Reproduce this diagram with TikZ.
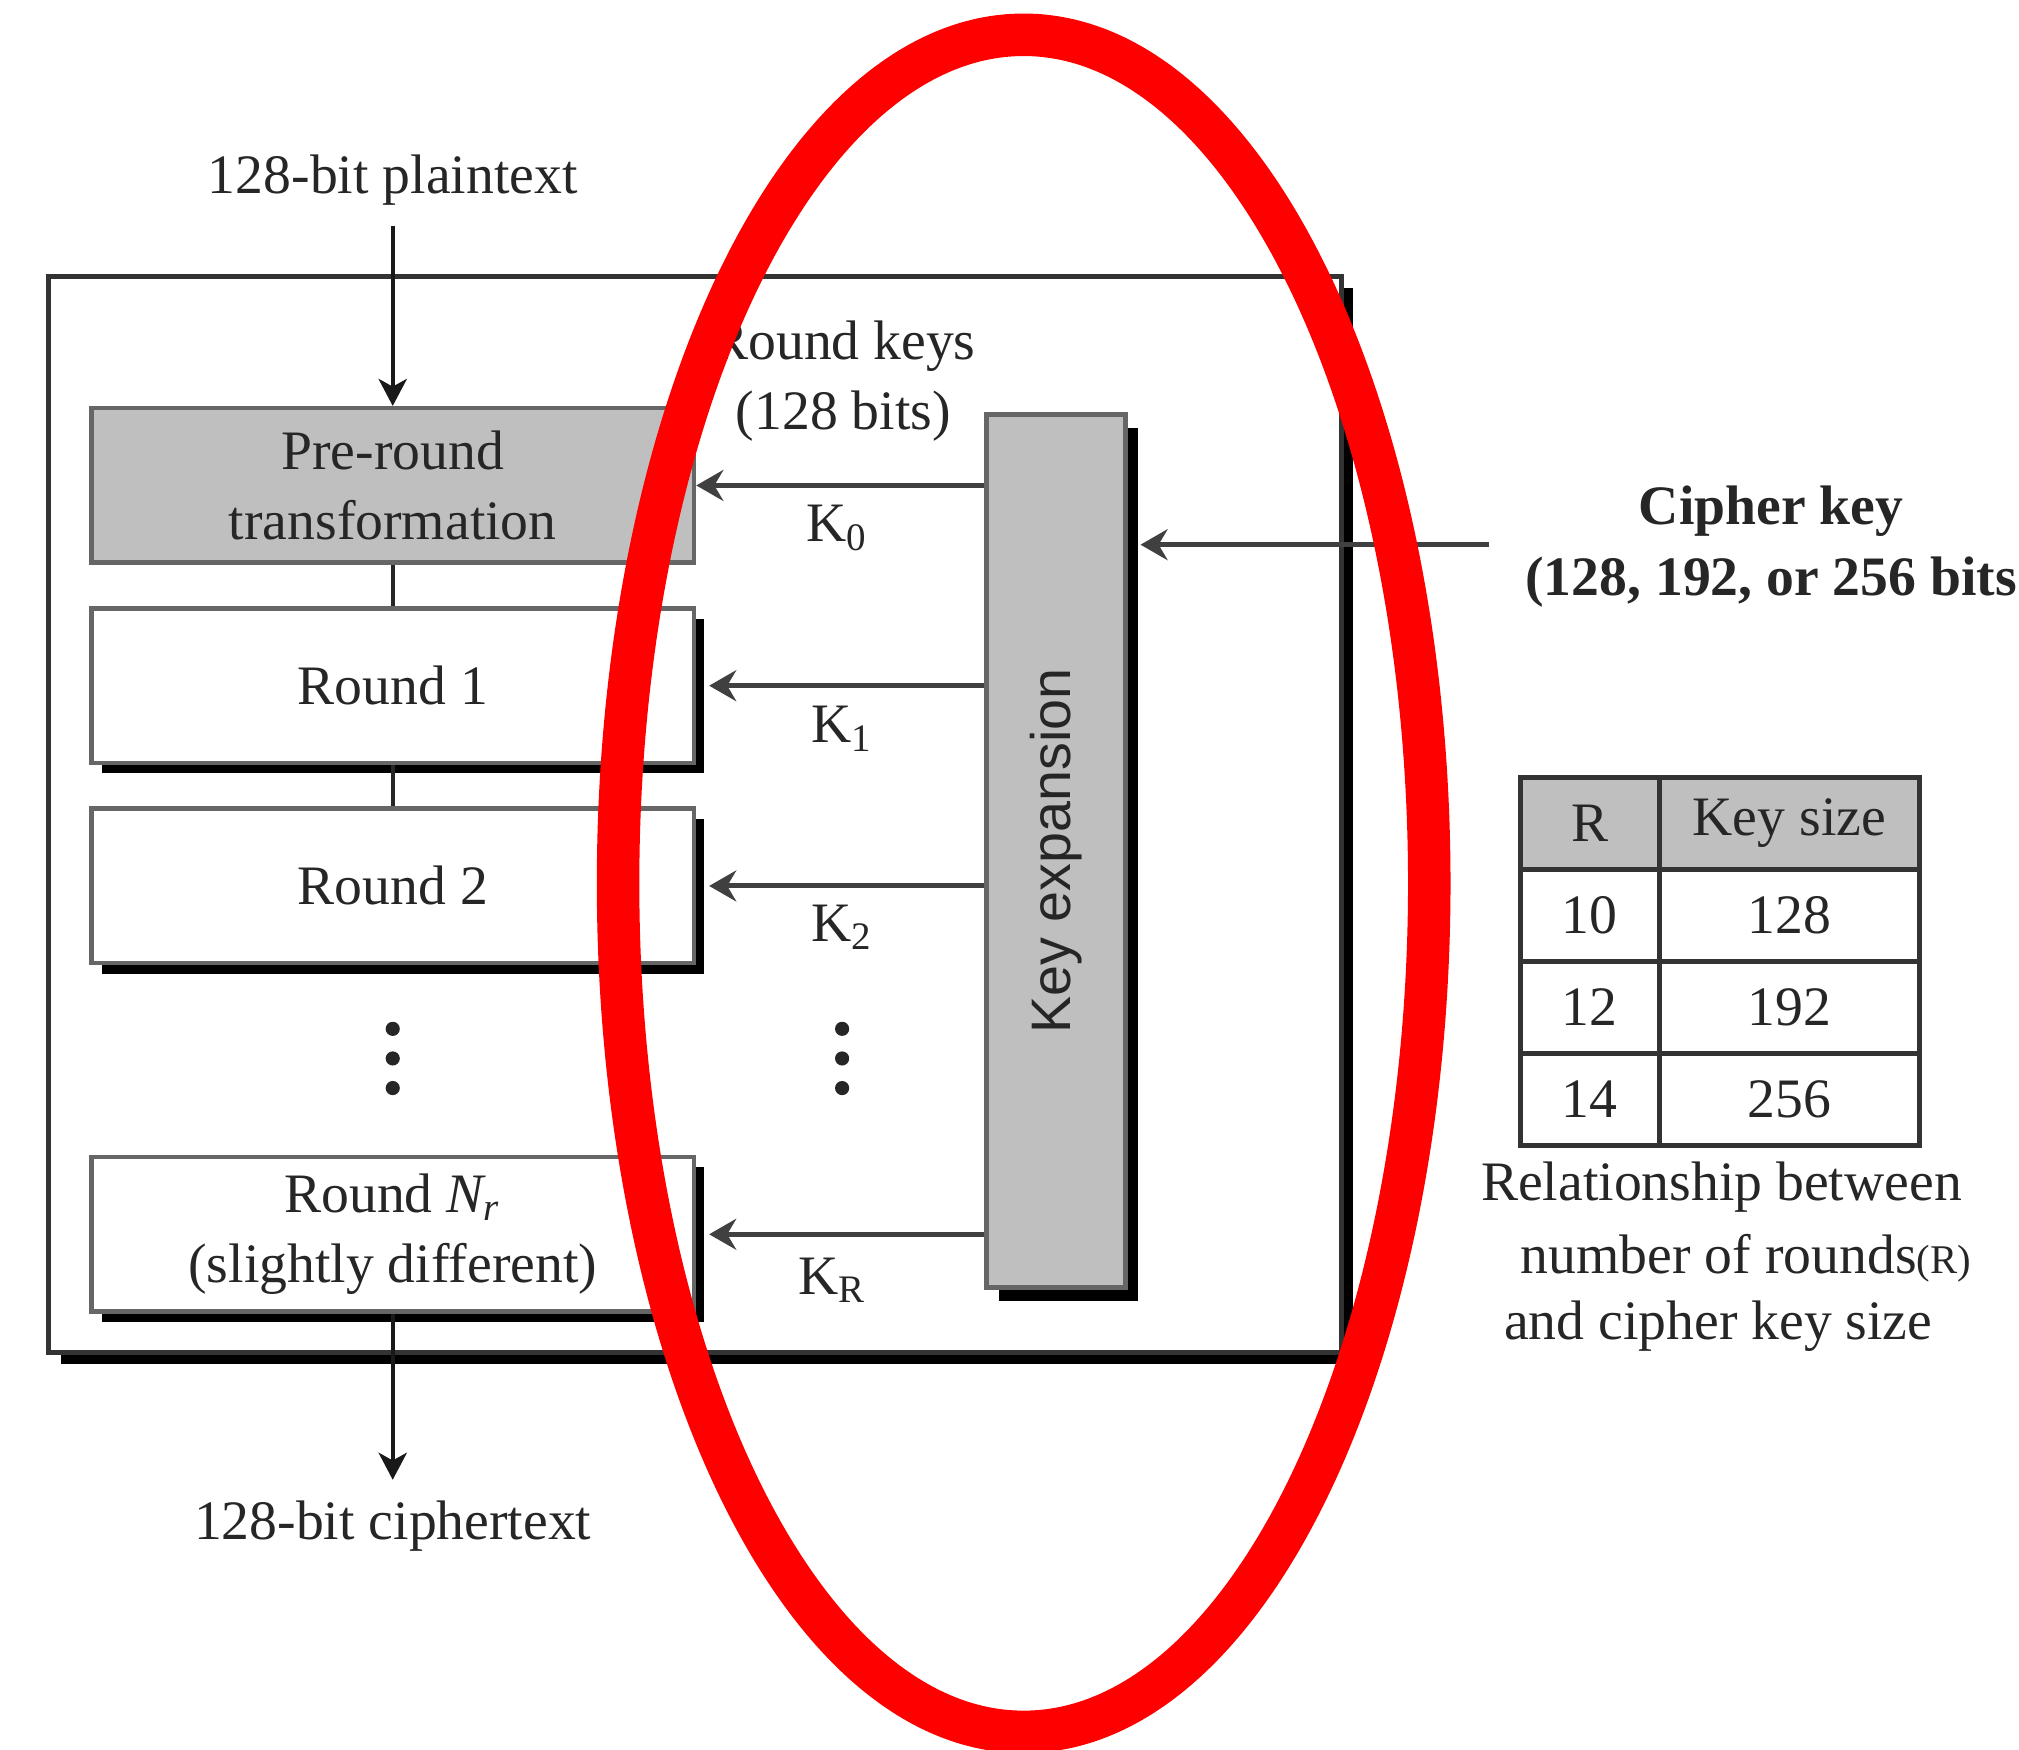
\documentclass[tikz,border=0pt]{standalone}
\usepackage{fontspec}
\setmainfont{Liberation Serif}
\setsansfont{Liberation Sans}
\usepackage{graphicx}
\usepackage{xcolor}
\usepackage{tikz}
\usetikzlibrary{arrows.meta,positioning,shadows,matrix}

\begin{document}
\begin{tikzpicture}[
    font=\fontsize{12.3}{15.5}\selectfont,
    txt/.style={inner sep=1pt, text=black!85, align=center},
    block/.style={draw=black!60, line width=1pt, minimum width=4.68cm, minimum height=1.2cm, align=center, text=black!85, inner sep=0pt},
    grayblock/.style={block, fill=black!25},
    roundbox/.style={block, fill=white, drop shadow={shadow xshift=0.08cm, shadow yshift=-0.08cm, fill=black, opacity=1}},
    keybox/.style={draw=black!60, line width=1pt, fill=black!25, minimum width=1.08cm, minimum height=6.78cm, inner sep=0pt, text=black!85, drop shadow={shadow xshift=0.1cm, shadow yshift=-0.1cm, fill=black, opacity=1}},
    outerbox/.style={draw=black!80, line width=1.1pt, fill=white, minimum width=10.04cm, minimum height=8.35cm, drop shadow={shadow xshift=0.09cm, shadow yshift=-0.09cm, fill=black, opacity=1}},
    arr/.style={-{Stealth[length=2.1mm, width=2.4mm, inset=0.7mm]}, line width=1.1pt, draw=black!75},
    flow/.style={-{Stealth[length=2.1mm, width=2.2mm, inset=0.6mm]}, line width=0.8pt, draw=black!90},
    link/.style={line width=0.9pt, draw=black!85},
    dot/.style={circle, fill=black!85, inner sep=0pt, minimum size=0.11cm},
    node distance=0.32cm
  ]
  \useasboundingbox (0,0) rectangle (15.68,-13.59);

  % Outer frame
  \node[outerbox] (outer) at (5.40,-6.325) {};

  % Cipher stages
  \node[grayblock] (pre) at (3.05,-3.77) {Pre-round\\transformation};
  \node[roundbox, below=of pre] (r1) {Round 1};
  \node[roundbox, below=of r1] (r2) {Round 2};
  \node[roundbox, below=1.47cm of r2] (rn) {Round \textit{N\textsubscript{r}}\\(slightly different)};

  % Plaintext and ciphertext
  \node[txt] (ptext) at (3.05,-1.40) {128-bit plaintext};
  \node[txt] (ctext) at (3.05,-11.85) {128-bit ciphertext};

  \draw[flow, shorten <=1.2mm] (ptext) -- (pre);
  \draw[link] (pre) -- (r1);
  \draw[link] (r1) -- (r2);
  \draw[flow, shorten >=1.2mm] (rn) -- (ctext);

  % Dots
  \foreach \i/\y in {1/7.99, 2/8.22, 3/8.45} {
    \node[dot] (ld\i) at (3.05,-\y) {};
    \node[dot] (rd\i) at (6.54,-\y) {};
  }

  % Key expansion and round keys
  \node[keybox] (keyexp) at (8.20,-6.61) {\sffamily\rotatebox{90}{Key expansion}};
  \node[txt] (rkeys) at (6.55,-2.96) {Round keys\\(128 bits)};

  \draw[arr] (keyexp.west |- pre.east) -- (pre.east);
  \foreach \b in {r1, r2, rn}
    \draw[arr] (keyexp.west |- \b.east) -- ([xshift=0.1cm]\b.east);

  \node[txt, anchor=west] (k0) at (6.22,-4.10) {K\textsubscript{0}};
  \node[txt, anchor=west] (k1) at (6.26,-5.66) {K\textsubscript{1}};
  \node[txt, anchor=west] (k2) at (6.26,-7.20) {K\textsubscript{2}};
  \node[txt, anchor=west] (kr) at (6.16,-9.94) {K\textsubscript{R}};

  % Cipher key input
  \coordinate (ckin) at (11.56,-4.23);
  \draw[arr] (ckin) -- ([xshift=0.1cm]keyexp.east |- ckin);
  \node[txt, inner sep=0pt, font=\fontsize{12.3}{15.5}\selectfont\bfseries] (ckey) at (13.755,-4.245) {Cipher key\\(128, 192, or 256 bits};

  % Rounds table
  \matrix (tab) [matrix of nodes, anchor=north west, inner sep=0pt,
    nodes={draw=black!80, line width=1.1pt, minimum height=0.715cm, inner sep=0pt, text=black!85, anchor=center},
    column 1/.style={nodes={minimum width=1.08cm}},
    column 2/.style={nodes={minimum width=2.02cm}},
    row 1/.style={nodes={fill=black!25}},
    column sep=-1.1pt, row sep=-1.1pt] at (11.78,-6.01) {
    R  & Key size \\
    10 & 128 \\
    12 & 192 \\
    14 & 256 \\
  };

  % Caption
  \node[txt, anchor=west] (cap1) at (11.46,-9.22) {Relationship between};
  \node[txt, anchor=west] (cap2) at (11.77,-9.77) {number of rounds{\fontsize{9}{10}\selectfont(R)}};
  \node[txt, anchor=west] (cap3) at (11.64,-10.30) {and cipher key size};

  % Highlight
  \draw[red, line width=0.33cm] (7.95,-6.86) ellipse [x radius=3.15, y radius=6.59];
\end{tikzpicture}
\end{document}
